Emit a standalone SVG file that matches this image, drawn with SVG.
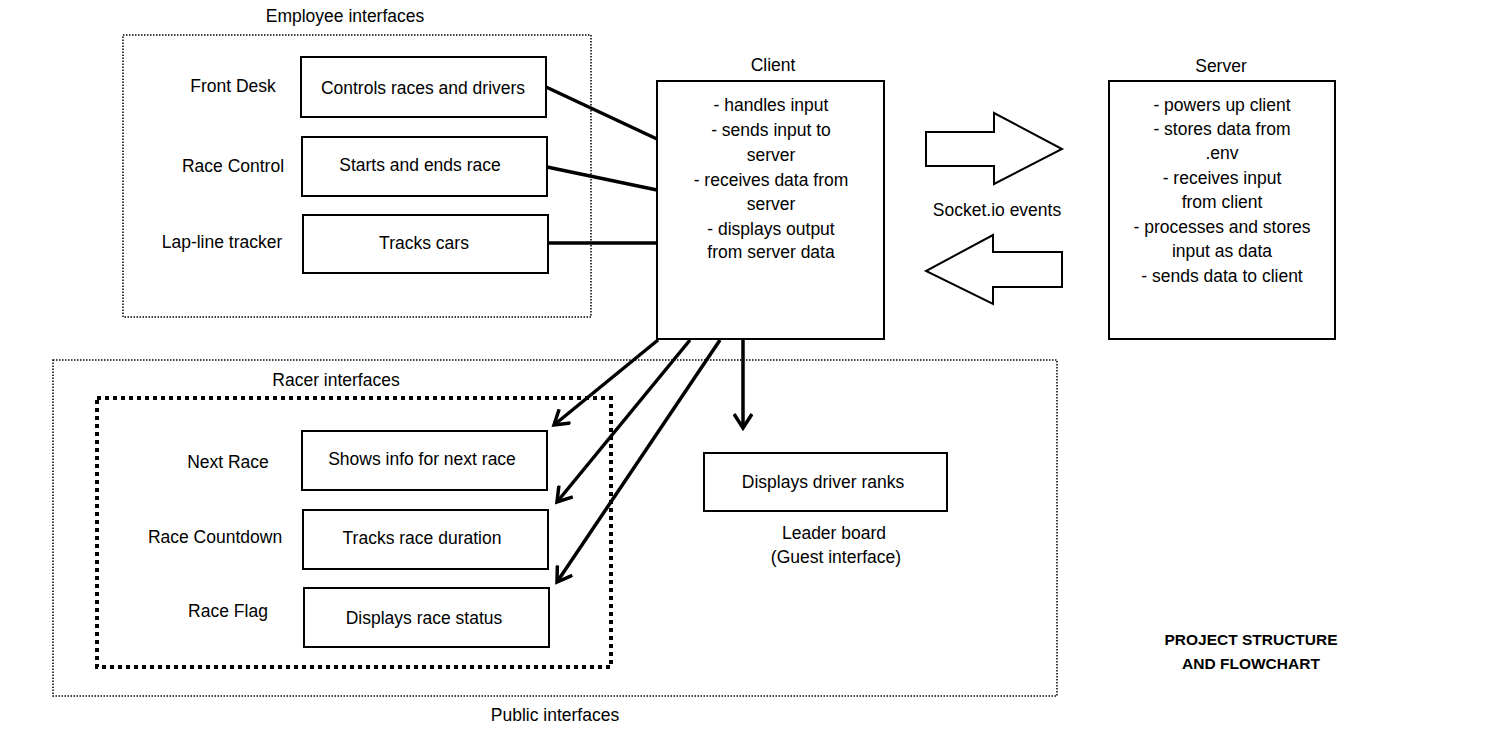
<svg xmlns="http://www.w3.org/2000/svg" width="1500" height="750" viewBox="0 0 1500 750">
<style>
text{font-family:"Liberation Sans",Arial,sans-serif;font-size:17.5px;fill:#000;text-anchor:middle}
.box{fill:#fff;stroke:#000;stroke-width:2}
.group{fill:none;stroke:#000;stroke-width:1.5;stroke-dasharray:1.5 1.5}
.racer{fill:none;stroke:#000;stroke-width:4;stroke-dasharray:4 4}
.conn{stroke:#000;stroke-width:3.5;fill:none}
.big{fill:#fff;stroke:#000;stroke-width:2;stroke-linejoin:miter}
.title{font-weight:bold;font-size:15.5px}
</style>
<defs>
<marker id="arr" markerUnits="userSpaceOnUse" viewBox="0 0 20 20" refX="17" refY="10" markerWidth="20" markerHeight="20" orient="auto">
<path d="M3,1 L17,10 L3,19" fill="none" stroke="#000" stroke-width="3.5"/>
</marker>
</defs>
<rect width="1500" height="750" fill="#fff"/>

<g id="employee-interfaces">
<rect class="group" x="123" y="35" width="468" height="282"/>
<text x="345" y="22">Employee interfaces</text>
</g>
<g id="public-interfaces">
<rect class="group" x="53" y="360" width="1004" height="336"/>
<text x="555" y="721">Public interfaces</text>
</g>
<g id="racer-interfaces">
<rect class="racer" x="97" y="398" width="514" height="269"/>
<text x="336" y="386">Racer interfaces</text>
</g>

<g id="connectors">
<line class="conn" x1="546" y1="87" x2="657" y2="139"/>
<line class="conn" x1="547" y1="167" x2="657" y2="190"/>
<line class="conn" x1="548" y1="243" x2="657" y2="243"/>
<line class="conn" x1="658" y1="340" x2="554" y2="425" marker-end="url(#arr)"/>
<line class="conn" x1="690" y1="340" x2="557" y2="502" marker-end="url(#arr)"/>
<line class="conn" x1="720" y1="340" x2="557" y2="582" marker-end="url(#arr)"/>
<line class="conn" x1="743" y1="340" x2="743" y2="428" marker-end="url(#arr)"/>
</g>

<g id="front-desk">
<text x="233" y="92">Front Desk</text>
<rect class="box" x="301" y="57" width="245" height="60"/>
<text x="423" y="94">Controls races and drivers</text>
</g>
<g id="race-control">
<text x="233" y="172">Race Control</text>
<rect class="box" x="302" y="137" width="245" height="59"/>
<text x="420" y="171">Starts and ends race</text>
</g>
<g id="lap-line-tracker">
<text x="222" y="248">Lap-line tracker</text>
<rect class="box" x="303" y="215" width="245" height="58"/>
<text x="424" y="249">Tracks cars</text>
</g>

<g id="client">
<text x="773" y="71">Client</text>
<rect class="box" x="657" y="81" width="227" height="258"/>
<text x="771" y="111">- handles input</text>
<text x="771" y="136">- sends input to</text>
<text x="771" y="161">server</text>
<text x="771" y="186">- receives data from</text>
<text x="771" y="210">server</text>
<text x="771" y="235">- displays output</text>
<text x="771" y="258">from server data</text>
</g>

<g id="server">
<text x="1221" y="72">Server</text>
<rect class="box" x="1109" y="81" width="226" height="258"/>
<text x="1222" y="111">- powers up client</text>
<text x="1222" y="135">- stores data from</text>
<text x="1222" y="159">.env</text>
<text x="1222" y="184">- receives input</text>
<text x="1222" y="208">from client</text>
<text x="1222" y="233">- processes and stores</text>
<text x="1222" y="257">input as data</text>
<text x="1222" y="282">- sends data to client</text>
</g>

<g id="socket-events">
<path class="big" d="M926,132 L994,132 L994,113 L1062,149 L994,184 L994,166 L926,166 Z"/>
<path class="big" d="M1062,252 L993,252 L993,235 L926,271 L993,304 L993,287 L1062,287 Z"/>
<text x="997" y="216">Socket.io events</text>
</g>

<g id="next-race">
<text x="228" y="468">Next Race</text>
<rect class="box" x="302" y="431" width="245" height="59"/>
<text x="422" y="465">Shows info for next race</text>
</g>
<g id="race-countdown">
<text x="215" y="543">Race Countdown</text>
<rect class="box" x="303" y="510" width="245" height="59"/>
<text x="422" y="544">Tracks race duration</text>
</g>
<g id="race-flag">
<text x="228" y="617">Race Flag</text>
<rect class="box" x="304" y="588" width="245" height="59"/>
<text x="424" y="624">Displays race status</text>
</g>

<g id="leader-board">
<rect class="box" x="704" y="453" width="243" height="58"/>
<text x="823" y="488">Displays driver ranks</text>
<text x="834" y="539">Leader board</text>
<text x="836" y="563">(Guest interface)</text>
</g>

<g id="title">
<text class="title" x="1251" y="645">PROJECT STRUCTURE</text>
<text class="title" x="1251" y="669">AND FLOWCHART</text>
</g>
</svg>
